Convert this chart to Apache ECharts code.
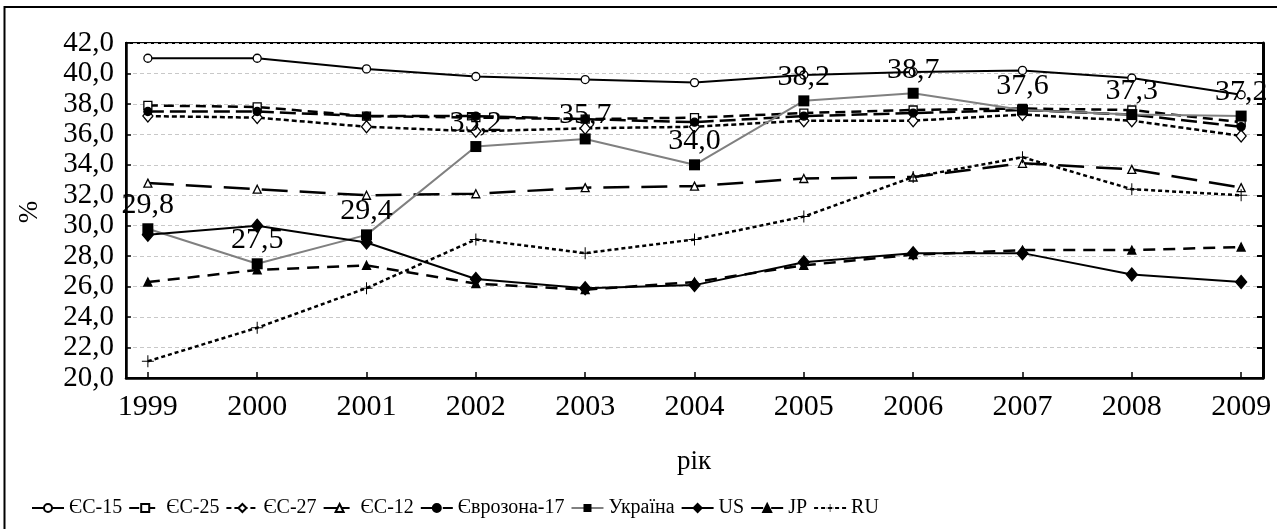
<!DOCTYPE html>
<html>
<head>
<meta charset="utf-8">
<script src="https://cdn.jsdelivr.net/npm/echarts@6/dist/echarts.min.js"></script>
<style>
html,body{margin:0;padding:0;background:#fff;}
#chart{width:1277px;height:529px;}
</style>
</head>
<body>
<div id="chart"></div>
<script>
var years = [1999, 2000, 2001, 2002, 2003, 2004, 2005, 2006, 2007, 2008, 2009];
var yTicks = [20, 22, 24, 26, 28, 30, 32, 34, 36, 38, 40, 42];
var eu15 = [41.0, 41.0, 40.3, 39.8, 39.6, 39.4, 39.9, 40.1, 40.2, 39.7, 38.6];
var eu25 = [37.9, 37.8, 37.2, 37.1, 37.0, 37.1, 37.4, 37.6, 37.7, 37.6, 36.8];
var eu27 = [37.2, 37.1, 36.5, 36.2, 36.4, 36.5, 36.9, 36.9, 37.3, 36.9, 35.9];
var eu12 = [32.8, 32.4, 32.0, 32.1, 32.5, 32.6, 33.1, 33.2, 34.1, 33.7, 32.5];
var ea17 = [37.5, 37.5, 37.2, 37.2, 37.0, 36.8, 37.2, 37.4, 37.6, 37.3, 36.5];
var ukraine = [29.8, 27.5, 29.4, 35.2, 35.7, 34.0, 38.2, 38.7, 37.6, 37.3, 37.2];
var us = [29.4, 30.0, 28.9, 26.5, 25.9, 26.1, 27.6, 28.2, 28.2, 26.8, 26.3];
var jp = [26.3, 27.1, 27.4, 26.2, 25.8, 26.3, 27.4, 28.1, 28.4, 28.4, 28.6];
var ru = [21.1, 23.3, 25.9, 29.1, 28.2, 29.1, 30.6, 33.2, 34.5, 32.4, 32.0];
var names = ['ЄС-15', 'ЄС-25', 'ЄС-27', 'ЄС-12', 'Єврозона-17', 'Україна', 'US', 'JP', 'RU'];

var SERIF = "'Liberation Serif', 'Times New Roman', serif";
function pairs(arr) { return arr.map(function (v, i) { return [years[i], v]; }); }
function fmt(v) { return v.toFixed(1).replace('.', ','); }
var PLUS = 'path://M5.5,0 H6.5 V5.5 H12 V6.5 H6.5 V12 H5.5 V6.5 H0 V5.5 H5.5 Z';

function mk(name, data, opts) {
  return Object.assign({
    name: name, type: 'line', data: pairs(data),
    symbolSize: 8, showSymbol: true,
    lineStyle: { color: '#000', width: 2, type: 'solid' },
    itemStyle: { color: '#000', borderColor: '#000', borderWidth: 1.3 },
    emphasis: { disabled: true }, animation: false
  }, opts);
}

var series = [
  mk(names[0], eu15, { symbol: 'circle', symbolSize: 8, itemStyle: { color: '#fff', borderColor: '#000', borderWidth: 1.3 } }),
  mk(names[1], eu25, { symbol: 'rect', symbolSize: 8, lineStyle: { color: '#000', width: 2.5, type: [10, 6] }, itemStyle: { color: '#fff', borderColor: '#000', borderWidth: 1.3 } }),
  mk(names[2], eu27, { symbol: 'diamond', symbolSize: [10, 12], lineStyle: { color: '#000', width: 2.5, type: [5, 3] }, itemStyle: { color: '#fff', borderColor: '#000', borderWidth: 1.3 } }),
  mk(names[3], eu12, { symbol: 'triangle', symbolSize: 8, lineStyle: { color: '#000', width: 2.5, type: [26, 12] }, itemStyle: { color: '#fff', borderColor: '#000', borderWidth: 1.3 } }),
  mk(names[4], ea17, { symbol: 'circle', symbolSize: 8, lineStyle: { color: '#000', width: 2.5, type: [16, 6] } }),
  mk(names[5], ukraine, {
    symbol: 'rect', symbolSize: 11,
    lineStyle: { color: '#808080', width: 2, type: 'solid' },
    itemStyle: { color: '#000', borderColor: '#000', borderWidth: 0 },
    label: { show: true, position: 'top', distance: 3, fontFamily: SERIF, fontSize: 30, color: '#000',
      formatter: function (p) { return fmt(p.value[1]); } },
    z: 3
  }),
  mk(names[6], us, { symbol: 'diamond', symbolSize: [11, 13], lineStyle: { color: '#000', width: 2, type: 'solid' } }),
  mk(names[7], jp, { symbol: 'triangle', symbolSize: 8, lineStyle: { color: '#000', width: 2.5, type: [12, 8] } }),
  mk(names[8], ru, { symbol: PLUS, symbolSize: 12, lineStyle: { color: '#000', width: 2.5, type: [4, 3] }, itemStyle: { color: '#000', borderWidth: 0 } })
];

var chart = echarts.init(document.getElementById('chart'), null, { renderer: 'canvas' });
chart.setOption({
  animation: false,
  backgroundColor: '#fff',
  grid: { left: 126, right: 14, top: 43, bottom: 151, show: true, borderColor: '#000', borderWidth: 2, backgroundColor: 'transparent', containLabel: false },
  xAxis: {
    type: 'value', min: 1998.8, max: 2009.2,
    axisLine: { show: true, lineStyle: { color: '#000', width: 2.5 } },
    axisTick: { show: true, inside: true, length: 6, customValues: years, lineStyle: { color: '#000', width: 1.5 } },
    axisLabel: { customValues: years, fontFamily: SERIF, fontSize: 30, color: '#000', margin: 14, formatter: function (v) { return String(Math.round(v)); } },
    splitLine: { show: false }
  },
  yAxis: [{
    type: 'value', min: 20, max: 42, interval: 2,
    axisLine: { show: true, lineStyle: { color: '#000', width: 2.5 } },
    axisTick: { show: true, inside: true, length: 5, lineStyle: { color: '#000', width: 1.5 } },
    axisLabel: { fontFamily: SERIF, fontSize: 29, color: '#000', margin: 12, formatter: function (v) { return fmt(v); } },
    splitLine: { show: true, lineStyle: { color: '#c8c8c8', width: 1, type: [4, 3] } }
  }, {
    type: 'value', min: 20, max: 42, interval: 2, position: 'right',
    axisLine: { show: true, lineStyle: { color: '#000', width: 3 } },
    axisTick: { show: true, inside: true, length: 6, lineStyle: { color: '#000', width: 2 } },
    axisLabel: { show: false },
    splitLine: { show: false }
  }],
  legend: {
    data: names, left: 26, top: 493, orient: 'horizontal',
    itemWidth: 32, itemHeight: 10, itemGap: 6,
    textStyle: { fontFamily: SERIF, fontSize: 20, color: '#000' },
    selectedMode: false
  },
  graphic: [
    { type: 'rect', shape: { x: 4.5, y: 7, width: 1400, height: 600 }, style: { fill: 'none', stroke: '#000', lineWidth: 2 }, silent: true },
    { type: 'text', x: 694, y: 462, style: { text: 'рік', font: '27px ' + SERIF, fill: '#000', textAlign: 'center', textVerticalAlign: 'middle' } },
    { type: 'text', x: 30, y: 212, rotation: Math.PI / 2, style: { text: '%', font: '27px ' + SERIF, fill: '#000', textAlign: 'center', textVerticalAlign: 'middle' } }
  ],
  series: series
});
</script>
</body>
</html>
